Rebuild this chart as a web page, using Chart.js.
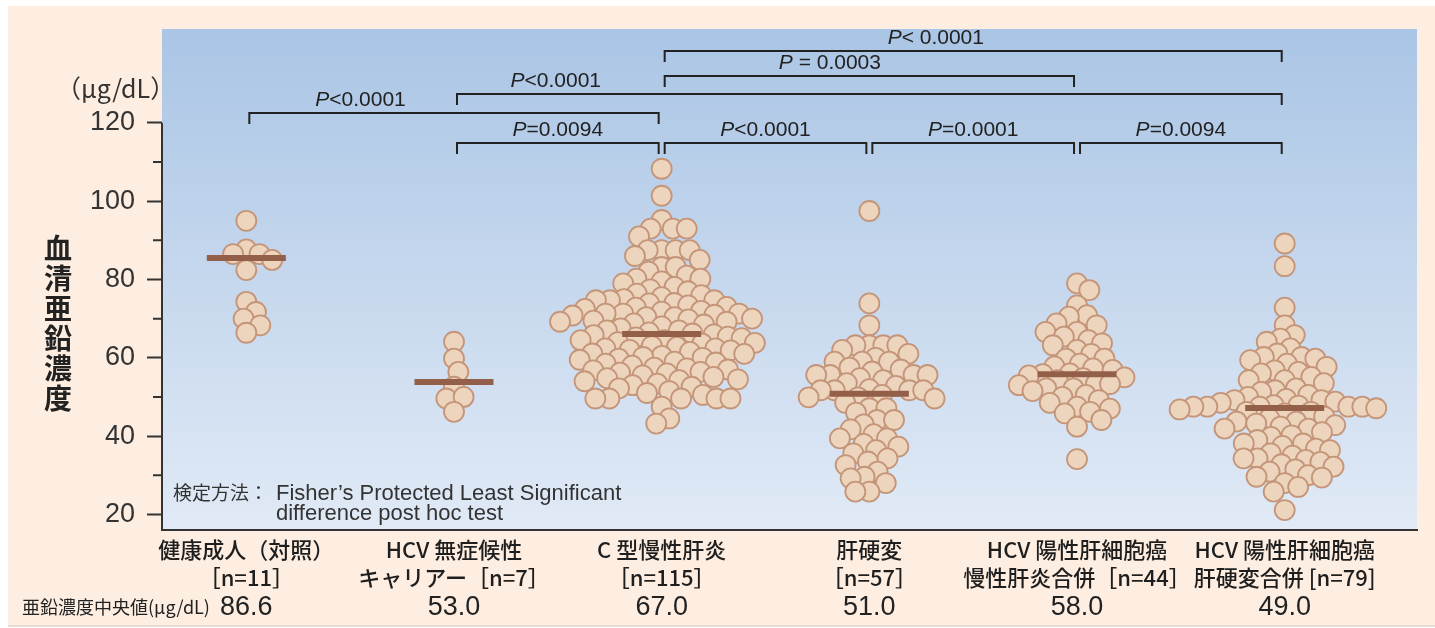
<!DOCTYPE html>
<html lang="ja">
<head>
<meta charset="utf-8">
<title>血清亜鉛濃度</title>
<script src="https://cdn.jsdelivr.net/npm/chart.js@4.4.1/dist/chart.umd.min.js"></script>
<style>
  html, body { margin: 0; padding: 0; background: #fff; }
  #panel { position: absolute; left: 8px; top: 6px; width: 1427px; height: 619px; background: #fdeee1; border-bottom: 2px solid #e4ddd6; }
  #wrap { position: absolute; left: 0; top: 0; width: 1435px; height: 628px; }
</style>
</head>
<body>
<div id="panel"></div>
<div id="wrap"><canvas id="chart" width="1435" height="628"></canvas></div>
<script>
const groupNames = [
    ['健康成人（対照）', '［n=11］'],
    ['HCV 無症候性', 'キャリアー［n=7］'],
    ['C 型慢性肝炎', '［n=115］'],
    ['肝硬変', '［n=57］'],
    ['HCV 陽性肝細胞癌', '慢性肝炎合併［n=44］'],
    ['HCV 陽性肝細胞癌', '肝硬変合併 [n=79]'],
];
const medianText = ['86.6', '53.0', '67.0', '51.0', '58.0', '49.0'];
// where the median bars are drawn in the figure
const medianLine = [85.5, 53.8, 66.1, 50.8, 55.8, 47.2];

const healthy = [95.0, 87.7, 86.5, 86.5, 85.0, 82.4, 74.3, 71.7, 70.0, 68.3, 66.4];
const carrier = [64.1, 59.8, 56.4, 52.6, 49.6, 50.0, 46.2];
const chronicHepatitis = [
    108.3, 101.4, 95.2, 93.0, 93.0, 93.0, 91.0, 87.5, 87.5, 87.5,
    87.5, 86.0, 85.0, 83.2, 83.2, 82.0, 81.0, 80.2, 80.2, 79.5,
    79.0, 78.1, 77.5, 77.0, 76.4, 76.0, 75.5, 75.0, 74.7, 74.7,
    74.7, 74.0, 73.9, 73.4, 73.0, 72.8, 72.5, 72.0, 71.8, 71.3,
    71.3, 71.3, 71.0, 70.8, 70.4, 70.4, 70.0, 69.8, 69.5, 69.2,
    69.2, 68.8, 68.5, 68.0, 67.5, 67.0, 67.0, 66.5, 66.2, 66.0,
    65.8, 65.4, 65.2, 65.0, 64.5, 64.5, 64.0, 63.8, 63.6, 63.0,
    62.8, 62.4, 62.4, 62.0, 61.9, 61.5, 61.1, 61.0, 60.5, 60.2,
    60.0, 59.8, 59.5, 59.0, 58.8, 58.5, 58.0, 57.5, 57.3, 57.0,
    56.8, 56.4, 56.2, 56.0, 55.5, 55.1, 54.8, 54.5, 54.3, 54.0,
    53.4, 53.0, 52.6, 52.2, 51.5, 51.0, 50.5, 49.6, 49.6, 49.6,
    49.6, 49.6, 47.5, 44.5, 43.2,
];
const cirrhosis = [
    97.5, 73.9, 68.3, 63.2, 63.2, 63.2, 63.2, 62.0, 61.0, 60.0,
    59.0, 59.0, 59.0, 57.5, 57.0, 56.5, 55.6, 55.6, 55.6, 55.6,
    54.8, 54.3, 53.5, 52.8, 52.0, 51.7, 51.7, 51.7, 51.7, 50.5,
    49.9, 49.9, 49.6, 48.5, 47.1, 47.1, 46.0, 44.1, 44.1, 43.0,
    41.7, 40.5, 39.4, 39.4, 38.0, 37.3, 36.4, 35.6, 34.3, 33.5,
    32.6, 30.9, 29.6, 29.2, 28.0, 25.8, 25.8,
];
const hccHepatitis = [
    79.0, 77.3, 73.4, 70.9, 70.5, 68.8, 68.3, 66.6, 66.6, 65.4,
    64.5, 63.7, 63.2, 62.0, 61.0, 59.8, 59.8, 58.5, 57.8, 57.3,
    56.9, 56.0, 55.8, 55.5, 55.0, 54.8, 54.3, 53.4, 53.3, 53.0,
    52.2, 52.2, 51.5, 50.5, 50.0, 49.2, 48.5, 47.5, 47.0, 46.2,
    45.8, 44.1, 42.4, 34.1,
];
const hccCirrhosis = [
    89.2, 83.4, 72.8, 68.3, 65.8, 64.9, 64.1, 62.4, 61.1, 60.2,
    60.2, 59.8, 59.4, 58.5, 57.7, 56.8, 56.4, 56.0, 55.1, 54.3,
    54.3, 53.5, 52.2, 51.7, 51.3, 50.5, 50.0, 49.5, 49.2, 49.2,
    48.8, 48.5, 47.9, 47.8, 47.5, 47.5, 47.5, 47.5, 47.5, 47.1,
    46.8, 46.2, 46.2, 45.8, 45.0, 44.5, 43.7, 43.7, 43.2, 42.8,
    42.4, 41.9, 41.9, 41.0, 40.2, 39.8, 39.0, 38.1, 38.1, 37.5,
    36.8, 36.4, 35.6, 35.0, 34.3, 34.3, 33.9, 33.4, 32.8, 32.2,
    31.5, 30.9, 30.0, 29.6, 29.4, 28.0, 27.0, 25.8, 21.1,
];
const groups = [healthy, carrier, chronicHepatitis, cirrhosis, hccHepatitis, hccCirrhosis];

const yTicks = [20, 30, 40, 50, 60, 70, 80, 90, 100, 110, 120];
const yLabels = [20, 40, 60, 80, 100, 120];

// significance brackets: [from group, to group, level, text, label centre]
const brackets = [
    [1, 3, 122.5, 'P<0.0001', 1.55],
    [2, 6, 127.3, 'P<0.0001', 2.49],
    [2, 3, 115.0, 'P=0.0094', 2.5],
    [3, 4, 115.0, 'P<0.0001', 3.5],
    [4, 5, 115.0, 'P=0.0001', 4.5],
    [5, 6, 115.0, 'P=0.0094', 5.5],
    [3, 5, 131.9, 'P = 0.0003', 3.81],
    [3, 6, 138.4, 'P< 0.0001', 4.32],
];

const LATIN = '"Liberation Sans", Arial, sans-serif';
const CJK = '"Noto Sans CJK JP", "Noto Sans", sans-serif';

// simple beeswarm: place each dot as close to the centre as it can go
function swarmOffsets(py, diam) {
    const order = py.map((_, i) => i).sort((a, b) => py[a] - py[b]);
    const placed = [];
    const out = new Array(py.length).fill(0);
    order.forEach((i) => {
        const y = py[i];
        const near = placed.filter((p) => Math.abs(p.y - y) < diam);
        const cands = [0];
        near.forEach((p) => {
            const dx = Math.sqrt(diam * diam - (p.y - y) * (p.y - y));
            cands.push(p.x + dx, p.x - dx);
        });
        cands.sort((a, b) => Math.abs(a) - Math.abs(b) || b - a);
        const x = cands.find((c) => near.every((p) => (p.x - c) ** 2 + (p.y - y) ** 2 >= diam * diam - 0.01));
        placed.push({ x, y });
        out[i] = x;
    });
    return out;
}

function drawPLabel(ctx, text, cx, cy) {
    const rest = text.slice(1);
    ctx.font = 'italic 21px ' + LATIN;
    const wP = ctx.measureText('P').width;
    ctx.font = '21px ' + LATIN;
    const wR = ctx.measureText(rest).width;
    const x = cx - (wP + wR) / 2;
    ctx.textAlign = 'left';
    ctx.textBaseline = 'middle';
    ctx.font = 'italic 21px ' + LATIN;
    ctx.fillText('P', x, cy);
    ctx.font = '21px ' + LATIN;
    ctx.fillText(rest, x + wP, cy);
}

const decorPlugin = {
    id: 'decor',
    beforeDraw(chart) {
        const { ctx, chartArea: a } = chart;
        const g = ctx.createLinearGradient(0, a.top, 0, a.bottom);
        g.addColorStop(0, '#aac5e5');
        g.addColorStop(1, '#e1eaf6');
        ctx.save();
        ctx.fillStyle = g;
        ctx.fillRect(a.left, a.top, a.right - a.left, a.bottom - a.top);
        ctx.restore();
    },
    afterDraw(chart) {
        const { ctx, chartArea: a } = chart;
        const xs = chart.scales.x;
        const ys = chart.scales.y;
        ctx.save();

        // y axis line (from 120 down) and minor ticks
        ctx.strokeStyle = '#333';
        ctx.lineWidth = 2;
        ctx.beginPath();
        ctx.moveTo(a.left, ys.getPixelForValue(120));
        ctx.lineTo(a.left, a.bottom);
        yTicks.filter((v) => !yLabels.includes(v)).forEach((v) => {
            const y = ys.getPixelForValue(v);
            ctx.moveTo(a.left - 9, y);
            ctx.lineTo(a.left, y);
        });
        ctx.stroke();

        // brackets
        ctx.strokeStyle = '#222';
        ctx.fillStyle = '#222';
        ctx.lineWidth = 2;
        brackets.forEach(([from, to, level, text, at]) => {
            const x1 = xs.getPixelForValue(from) + 3;
            const x2 = xs.getPixelForValue(to) - 3;
            const y = Math.round(ys.getPixelForValue(level));
            ctx.beginPath();
            ctx.moveTo(x1, y + 11);
            ctx.lineTo(x1, y);
            ctx.lineTo(x2, y);
            ctx.lineTo(x2, y + 11);
            ctx.stroke();
            drawPLabel(ctx, text, xs.getPixelForValue(at), y - 13);
        });

        // unit and vertical axis title
        ctx.fillStyle = '#333';
        ctx.textBaseline = 'middle';
        ctx.textAlign = 'left';
        ctx.font = '25px ' + CJK;
        ctx.fillText('（μg/dL）', 56, 88);
        ctx.fillStyle = '#222';
        ctx.textAlign = 'center';
        ctx.font = 'bold 28px ' + CJK;
        '血清亜鉛濃度'.split('').forEach((ch, i) => ctx.fillText(ch, 58, 248 + i * 30));

        // test note
        ctx.fillStyle = '#333';
        ctx.textAlign = 'left';
        const head = '検定方法：';
        ctx.font = '19px ' + CJK;
        ctx.fillText(head, a.left + 11, 493);
        ctx.font = '22px ' + LATIN;
        ctx.fillText('Fisher’s Protected Least Significant', 276, 494);
        ctx.fillText('difference post hoc test', 276, 514);

        // median row
        ctx.font = '18px ' + CJK;
        ctx.fillStyle = '#222';
        ctx.fillText('亜鉛濃度中央値(μg/dL)', 22, 607);
        ctx.textAlign = 'center';
        ctx.font = '27px ' + LATIN;
        medianText.forEach((t, i) => ctx.fillText(t, xs.getPixelForValue(i + 1), 608));
        ctx.restore();
    },
};

const pointSets = groups.map((vals, g) => ({
    data: vals.map((v) => ({ x: g + 1, y: v })),
    backgroundColor: '#edd4bc',
    borderColor: '#c49579',
    borderWidth: 1.8,
    pointRadius: 10,
    order: 1,
}));
const medianSet = {
    data: medianLine.map((v, i) => ({ x: i + 1, y: v })),
    pointStyle: 'line',
    pointRadius: 39.5,
    borderWidth: 6,
    borderColor: '#935f49',
    order: 0,
};

const chart = new Chart(document.getElementById('chart'), {
    type: 'scatter',
    data: { datasets: [...pointSets, medianSet] },
    options: {
        responsive: false,
        animation: false,
        events: [],
        layout: { autoPadding: false, padding: { top: 29, right: 18, left: 0, bottom: 0 } },
        plugins: { legend: { display: false }, tooltip: { enabled: false } },
        scales: {
            x: {
                type: 'linear',
                min: 0.594,
                max: 6.637,
                afterBuildTicks: (s) => { s.ticks = groupNames.map((_, i) => ({ value: i + 1 })); },
                afterFit: (s) => { s.height = 98; s.paddingLeft = 0; s.paddingRight = 0; },
                grid: { display: false, drawTicks: false },
                border: { display: true, color: '#333', width: 2 },
                ticks: {
                    autoSkip: false,
                    maxRotation: 0,
                    padding: 6,
                    color: '#1e1e1e',
                    font: { family: CJK, size: 22, weight: '500', lineHeight: 1.27 },
                    callback: (v) => groupNames[Math.round(v) - 1],
                },
            },
            y: {
                min: 16,
                max: 144,
                afterBuildTicks: (s) => { s.ticks = yTicks.map((v) => ({ value: v })); },
                afterFit: (s) => { s.width = 162; s.paddingTop = 0; s.paddingBottom = 0; },
                border: { display: false },
                grid: {
                    drawOnChartArea: false,
                    drawTicks: true,
                    tickLength: 15,
                    tickWidth: 2,
                    tickColor: (c) => (c.tick && yLabels.includes(c.tick.value) ? '#333' : 'rgba(0,0,0,0)'),
                },
                ticks: {
                    padding: 12,
                    color: '#333',
                    font: { family: LATIN, size: 27 },
                    callback: (v) => (yLabels.includes(v) ? v : ''),
                },
            },
        },
    },
    plugins: [decorPlugin],
});

// spread the dots sideways now that the scales exist
const xScale = chart.scales.x;
const yScale = chart.scales.y;
const pxPerGroup = xScale.getPixelForValue(2) - xScale.getPixelForValue(1);
groups.forEach((vals, g) => {
    const off = swarmOffsets(vals.map((v) => yScale.getPixelForValue(v)), 14);
    chart.data.datasets[g].data = vals.map((v, i) => ({ x: g + 1 + off[i] / pxPerGroup, y: v }));
});
chart.update('none');
</script>
</body>
</html>
